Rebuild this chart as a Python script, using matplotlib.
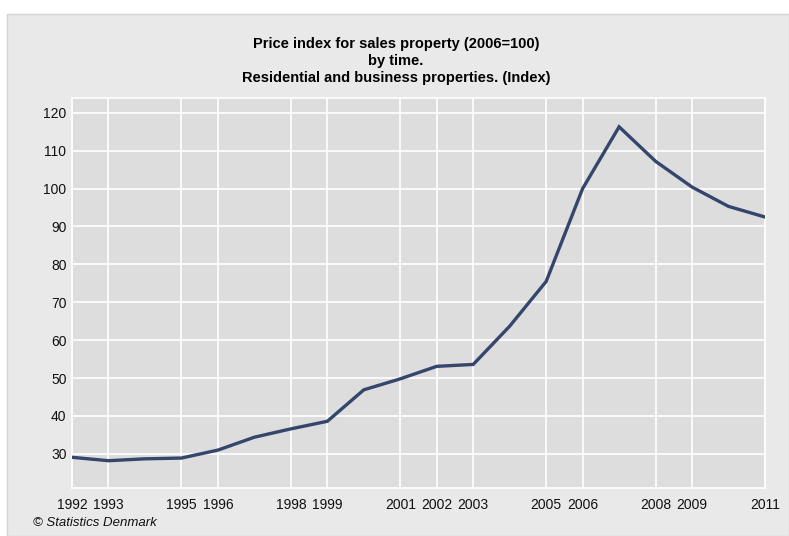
import matplotlib.pyplot as plt
from matplotlib.patches import Rectangle

# annual index values (2006=100)
years = list(range(1992, 2012))
index = [29.1, 28.2, 28.7, 28.9, 31.0, 34.4, 36.6, 38.6, 46.9, 49.8,
         53.1, 53.6, 63.7, 75.5, 100.0, 116.3, 107.2, 100.4, 95.3, 92.5]
xticks = [1992, 1993, 1995, 1996, 1998, 1999, 2001, 2002, 2003,
          2005, 2006, 2008, 2009, 2011]
yticks = [30, 40, 50, 60, 70, 80, 90, 100, 110, 120]
title = ("Price index for sales property (2006=100)\nby time.\n"
         "Residential and business properties. (Index)")

plt.rcParams['font.family'] = ['Liberation Sans', 'DejaVu Sans']

fig = plt.figure(figsize=(7.89, 5.36), dpi=100)
fig.patch.set_facecolor('white')
# light grey panel behind everything
fig.patches.append(Rectangle((7/789, 0), 1 - 7/789, (536 - 14)/536,
                             transform=fig.transFigure, facecolor='#e9e9e9',
                             edgecolor='#d4d4d4', lw=1, zorder=-5))

ax = fig.add_axes([72/789, 48/536, 693/789, 390/536])
ax.set_facecolor('#dddddd')
ax.plot(years, index, color='#34466c', lw=2.4, solid_joinstyle='miter', zorder=3)

ax.set_xlim(1992, 2011)
ax.set_ylim(21, 123.9)
ax.set_xticks(xticks)
ax.set_yticks(yticks)
ax.tick_params(length=0, labelsize=10, colors='#111111', pad=4)
ax.tick_params(axis='x', pad=7)
ax.grid(True, color='white', lw=1.2)
ax.set_axisbelow(True)
for s in ax.spines.values():
    s.set_color('white')
    s.set_linewidth(1.2)

fig.text(396/789, 1 - 61/536, title, ha='center', va='center',
         fontsize=10.5, fontweight='bold', linespacing=1.25)
fig.text(33/789, 1 - 523/536, '\u00a9 Statistics Denmark', ha='left',
         va='center', fontsize=9.5, style='italic', color='#111111')

fig.savefig('out.png', dpi=100)
